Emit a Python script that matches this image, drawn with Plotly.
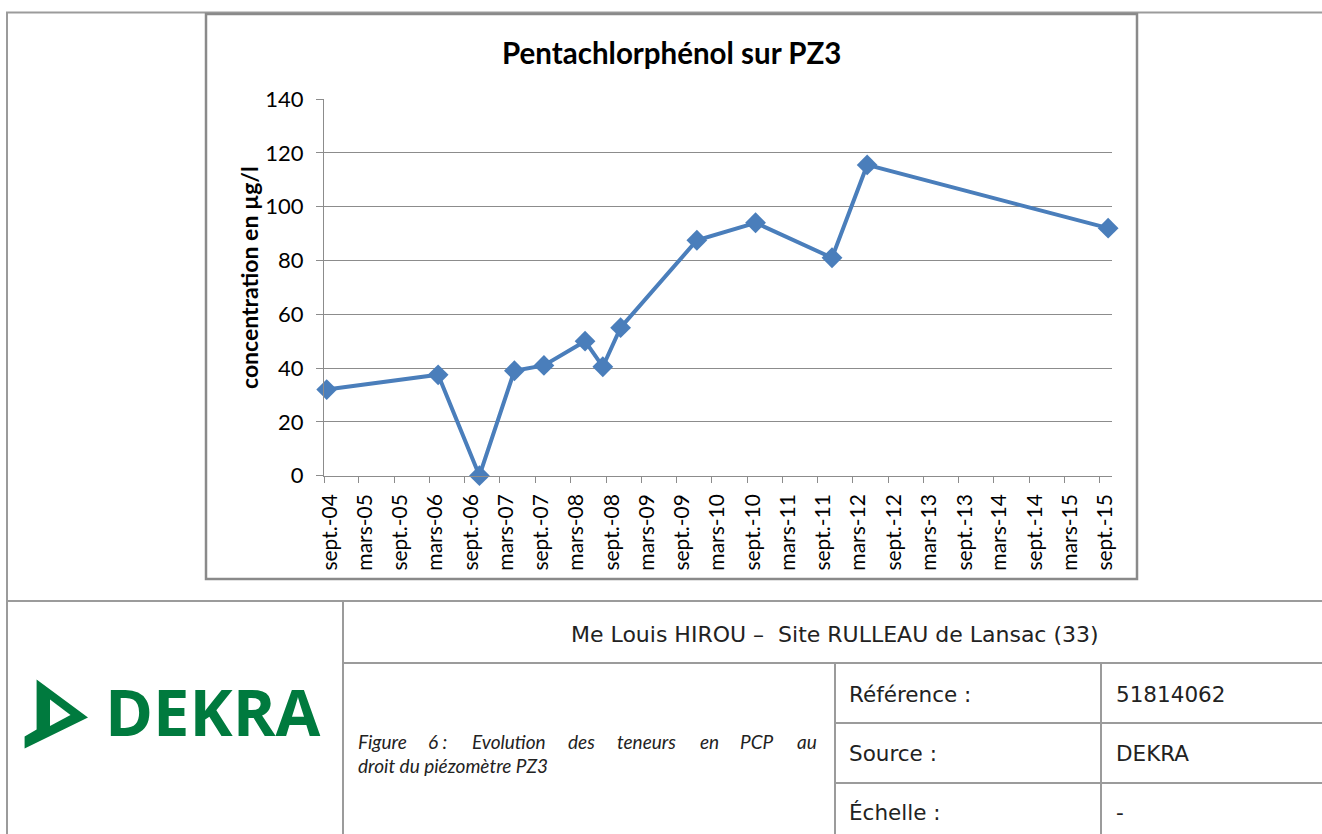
import plotly.graph_objects as go

# ---------------- data ----------------
dates = ["2004-09-15", "2006-04-15", "2006-11-15", "2007-05-15", "2007-10-15",
         "2008-05-15", "2008-08-15", "2008-11-15", "2009-12-15", "2010-10-15",
         "2011-11-15", "2012-05-15", "2015-10-15"]
values = [32, 37.5, 0, 39, 41, 50, 40.5, 55, 87.5, 94, 81, 115.5, 92]

tick_dates = ["2004-09-01", "2005-03-01", "2005-09-01", "2006-03-01", "2006-09-01",
              "2007-03-01", "2007-09-01", "2008-03-01", "2008-09-01", "2009-03-01",
              "2009-09-01", "2010-03-01", "2010-09-01", "2011-03-01", "2011-09-01",
              "2012-03-01", "2012-09-01", "2013-03-01", "2013-09-01", "2014-03-01",
              "2014-09-01", "2015-03-01", "2015-09-01"]
tick_labels = ["sept.-04", "mars-05", "sept.-05", "mars-06", "sept.-06", "mars-07",
               "sept.-07", "mars-08", "sept.-08", "mars-09", "sept.-09", "mars-10",
               "sept.-10", "mars-11", "sept.-11", "mars-12", "sept.-12", "mars-13",
               "sept.-13", "mars-14", "sept.-14", "mars-15", "sept.-15"]
y_ticks = [0, 20, 40, 60, 80, 100, 120, 140]

title_text = "Pentachlorphénol sur PZ3"
ytitle_text = "concentration en µg/l"
header_text = "Me Louis HIROU –  Site RULLEAU de Lansac (33)"
caption_words = ["Figure", "6 :", "Evolution", "des", "teneurs", "en", "PCP", "au"]
caption_line2 = "droit du piézomètre PZ3"
info_labels = ["Référence :", "Source :", "Échelle :"]
info_values = ["51814062", "DEKRA", "-"]

W, H = 1322, 834
def px(x):
    return x / W
def py(y):
    return 1 - y / H

LINE = "#4A7EBB"
GRID = "#8C8C8C"
TBL = "#9B9B9B"
GREEN = "#007A3E"
CHART_FONT = "Lato"
DOC_FONT = "DejaVu Sans"
CAP_FONT = "Lato"

fig = go.Figure()
fig.add_trace(go.Scatter(
    x=dates, y=values, mode="lines+markers",
    line=dict(color=LINE, width=4),
    marker=dict(symbol="diamond", size=16, color=LINE),
    showlegend=False, cliponaxis=False,
))

shapes = []
def hline(y, x0, x1, color=TBL, w=2):
    shapes.append(dict(type="line", xref="paper", yref="paper",
                       x0=px(x0), x1=px(x1), y0=py(y), y1=py(y),
                       line=dict(color=color, width=w)))
def vline(x, y0, y1, color=TBL, w=2):
    shapes.append(dict(type="line", xref="paper", yref="paper",
                       x0=px(x), x1=px(x), y0=py(y0), y1=py(y1),
                       line=dict(color=color, width=w)))

# page frame / table
hline(12.5, 6, 1322)
vline(7, 12, 834)
hline(601, 6, 1322)
vline(343, 601, 834)
hline(663, 343, 1322)
vline(835, 663, 834)
vline(1101, 663, 834)
hline(723, 835, 1322)
hline(783, 835, 1322)
# chart frame
shapes.append(dict(type="rect", xref="paper", yref="paper",
                   x0=px(206), x1=px(1137), y0=py(579), y1=py(14),
                   line=dict(color="#8A8A8A", width=2.5), fillcolor="rgba(0,0,0,0)"))

# DEKRA logo mark
def path(points):
    return "M " + " L ".join(f"{px(x)},{py(y)}" for x, y in points) + " Z"
outer = [(36.6, 679.5), (88, 717.5), (24.6, 748.5), (24.6, 736.5), (36.6, 729.5)]
inner = [(50, 699.5), (70.5, 715), (50, 726)]
shapes.append(dict(type="path", xref="paper", yref="paper", path=path(outer),
                   fillcolor=GREEN, line=dict(width=0)))
shapes.append(dict(type="path", xref="paper", yref="paper", path=path(inner),
                   fillcolor="white", line=dict(width=0)))

annotations = []
def text(x, y, s, size, xanchor="left", font=DOC_FONT, color="#222222", **kw):
    annotations.append(dict(xref="paper", yref="paper", x=px(x), y=py(y), text=s,
                            showarrow=False, xanchor=xanchor, yanchor="middle",
                            font=dict(family=font, size=size, color=color), **kw))

text(671, 52, "<b>" + title_text + "</b>", 29.5, xanchor="center", font=CHART_FONT, color="#000000")
text(249, 278, "<b>" + ytitle_text + "</b>", 23, xanchor="center", font=CHART_FONT,
     color="#000000", textangle=-90)
text(835, 634, header_text, 22, xanchor="center")
# first caption line, spread across the cell width (justified)
word_x = [356, 426, 470, 566, 615, 698, 738, 795]
for w, xx in zip(caption_words, word_x):
    text(xx, 741, "<i>" + w + "</i>", 19, font=CAP_FONT)
text(356, 765, "<i>" + caption_line2 + "</i>", 19, font=CAP_FONT)
for i, (lab, val) in enumerate(zip(info_labels, info_values)):
    yy = 694 + 59 * i
    text(847, yy, lab, 21.5)
    text(1114, yy, val, 21.5)
text(103, 711, "<b>DEKRA</b>", 65, font="Open Sans", color=GREEN)

fig.update_layout(
    width=W, height=H, margin=dict(l=0, r=0, t=0, b=0, pad=0, autoexpand=False),
    paper_bgcolor="white", plot_bgcolor="white",
    shapes=shapes, annotations=annotations,
    xaxis=dict(
        type="date", domain=[px(324), px(1112)], automargin=False,
        range=["2004-09-01", "2015-11-04"],
        tickmode="array", tickvals=tick_dates, ticktext=tick_labels,
        tickangle=-90, ticks="outside", ticklen=6, tickcolor=GRID, tickwidth=1,
        showline=True, linecolor=GRID, linewidth=1,
        showgrid=False, zeroline=False,
        tickfont=dict(family=CHART_FONT, size=21, color="#000000"),
        ticklabelstandoff=3, ticklabelshift=6,
    ),
    yaxis=dict(
        domain=[py(475.7), py(99)], range=[0, 140], automargin=False,
        tickvals=y_ticks,
        ticks="outside", ticklen=7, tickcolor=GRID, tickwidth=1,
        showline=True, linecolor=GRID, linewidth=1,
        showgrid=True, gridcolor=GRID, gridwidth=1, zeroline=False,
        tickfont=dict(family=CHART_FONT, size=22, color="#000000"),
        ticklabelstandoff=8,
    ),
)

fig.write_html("out.html", config={"displayModeBar": False},
               post_script="document.body.style.margin='0';document.body.style.overflow='hidden';")
